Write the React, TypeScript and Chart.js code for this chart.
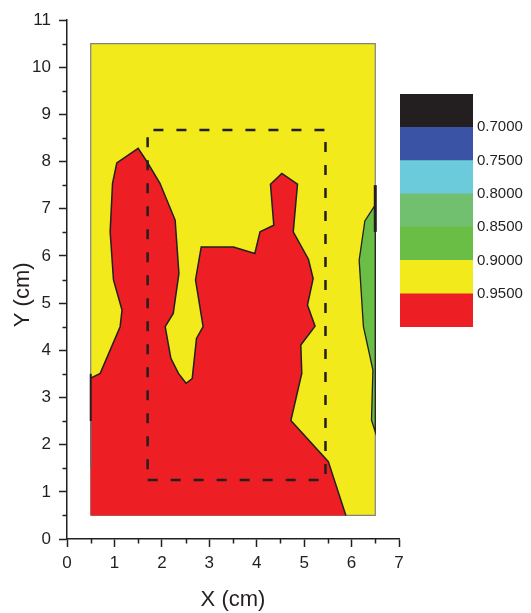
import React, { useEffect, useRef } from "react";
import { Chart, registerables } from "chart.js";

Chart.register(...registerables);

// Domain and axis ticks
const X_MAX = 7;
const Y_MAX = 11;

// Sampled region (yellow background field, 0.90–0.95 band)
const fieldX = [0.5, 6.5, 6.5, 0.5, 0.5];
const fieldY = [0.5, 0.5, 10.5, 10.5, 0.5];

// Region above 0.95 (red); the last two points run along the field boundary
const redX = [
  0.5, 0.7, 1.12, 1.16, 0.98, 0.91, 0.96, 1.05, 1.5, 1.69, 1.96, 2.28, 2.36, 2.24,
  2.07, 2.19, 2.35, 2.51, 2.64, 2.73, 2.87, 2.71, 2.83, 3.51, 3.96, 4.07, 4.36, 4.29,
  4.53, 4.86, 4.77, 5.09, 5.19, 5.07, 5.23, 4.93, 4.95, 4.72, 5.51, 5.88, 0.5, 0.5,
];
const redY = [
  3.41, 3.51, 4.5, 4.85, 5.49, 6.51, 7.54, 7.97, 8.28, 7.99, 7.54, 6.76, 5.63, 4.78,
  4.5, 3.83, 3.51, 3.3, 3.4, 4.25, 4.5, 5.49, 6.19, 6.19, 6.05, 6.51, 6.65, 7.52,
  7.75, 7.52, 6.51, 5.93, 5.52, 4.96, 4.51, 4.11, 3.51, 2.51, 1.64, 0.5, 0.5, 3.41,
];
// Only the interior part of the red outline is drawn as a contour line
const redLineX = redX.slice(0, -2);
const redLineY = redY.slice(0, -2);

// Contour of the 0.85–0.90 band along the right edge (green)
const greenX = [6.5, 6.28, 6.16, 6.25, 6.45, 6.42, 6.5, 6.5];
const greenY = [7.08, 6.74, 5.91, 4.5, 3.58, 2.52, 2.27, 7.08];

// Short contour pieces lying on the field boundary
const leftEdgeX = [0.5, 0.5];
const leftEdgeY = [2.5, 3.5];
const leftEdgeGreyY = [1.5, 2.5];
const rightEdgeX = [6.5, 6.5];
const rightEdgeY = [6.51, 7.5];

// Dashed inspection window
const windowX = [1.7, 5.45, 5.45, 1.7, 1.7];
const windowY = [1.25, 1.25, 8.67, 8.67, 1.25];

// Colour scale (bottom to top) and the level labels between bands
const levelLabels = ["0.9500", "0.9000", "0.8500", "0.8000", "0.7500", "0.7000"];
const bandColors = ["#ed1f24", "#f2ea1a", "#6abd45", "#70c06f", "#6ccbdb", "#3a53a4", "#231f20"];

const INK = "#231f20";
const FONT = "'Liberation Sans', Arial, Helvetica, sans-serif";
const RED = bandColors[0];
const YELLOW = bandColors[1];
const GREEN = bandColors[2];

const pts = (xs: number[], ys: number[]) => xs.map((x, i) => ({ x, y: ys[i] }));

const minorTicks = {
  id: "minorTicks",
  afterDraw(chart: any) {
    const { ctx, scales } = chart;
    const x = scales.x;
    const y = scales.y;
    ctx.save();
    ctx.strokeStyle = INK;
    ctx.lineWidth = 1.5;
    ctx.beginPath();
    for (let v = 0.5; v < X_MAX; v += 1) {
      const px = Math.round(x.getPixelForValue(v)) + 0.5;
      ctx.moveTo(px, x.top);
      ctx.lineTo(px, x.top + 4.5);
    }
    for (let v = 0.5; v < Y_MAX; v += 1) {
      const py = Math.round(y.getPixelForValue(v)) + 0.5;
      ctx.moveTo(y.right, py);
      ctx.lineTo(y.right - 4.5, py);
    }
    ctx.stroke();
    ctx.restore();
  },
};

function ContourChart() {
  const ref = useRef<HTMLCanvasElement>(null);
  useEffect(() => {
    if (!ref.current) return;
    const base = { pointRadius: 0, showLine: true, tension: 0 };
    const chart = new Chart(ref.current, {
      type: "scatter",
      data: {
        datasets: [
          {
            ...base,
            data: pts(windowX, windowY),
            borderColor: INK,
            borderWidth: 2.5,
            borderDash: [10, 13],
            fill: false,
            order: 1,
          },
          {
            ...base,
            data: pts(rightEdgeX, rightEdgeY),
            borderColor: INK,
            borderWidth: 3,
            fill: false,
            order: 2,
          },
          {
            ...base,
            data: pts(leftEdgeX, leftEdgeY),
            borderColor: INK,
            borderWidth: 2,
            fill: false,
            order: 2,
          },
          {
            ...base,
            data: pts(leftEdgeX, leftEdgeGreyY),
            borderColor: "#6d6e71",
            borderWidth: 1.5,
            fill: false,
            order: 2,
          },
          {
            ...base,
            data: pts(greenX, greenY),
            borderColor: INK,
            borderWidth: 1.3,
            backgroundColor: GREEN,
            fill: "shape",
            order: 3,
          },
          {
            ...base,
            data: pts(redLineX, redLineY),
            borderColor: INK,
            borderWidth: 1.5,
            fill: false,
            order: 3.5,
          },
          {
            ...base,
            data: pts(redX, redY),
            borderColor: RED,
            borderWidth: 0,
            backgroundColor: RED,
            fill: "shape",
            order: 4,
          },
          {
            ...base,
            data: pts(fieldX, fieldY),
            borderColor: "#808285",
            borderWidth: 1.2,
            backgroundColor: YELLOW,
            fill: "shape",
            order: 5,
          },
        ],
      } as any,
      options: {
        animation: false,
        responsive: false,
        events: [],
        layout: { padding: { left: 0, top: 20, right: 132, bottom: 0 } },
        plugins: { legend: { display: false }, tooltip: { enabled: false } },
        scales: {
          x: {
            type: "linear",
            min: 0,
            max: X_MAX,
            afterFit: (s: any) => {
              s.height = 74;
            },
            grid: { drawOnChartArea: false, drawTicks: true, tickLength: 8, tickColor: INK, tickWidth: 1.5 },
            border: { display: true, color: INK, width: 1.5 },
            ticks: { stepSize: 1, color: INK, font: { family: FONT, size: 17 }, padding: 6 },
            title: {
              display: true,
              text: "X (cm)",
              color: INK,
              font: { family: FONT, size: 22 },
              padding: { top: 0, bottom: 0 },
            },
          },
          y: {
            type: "linear",
            min: 0,
            max: Y_MAX,
            afterFit: (s: any) => {
              s.width = 67;
            },
            grid: { drawOnChartArea: false, drawTicks: true, tickLength: 8, tickColor: INK, tickWidth: 1.5 },
            border: { display: true, color: INK, width: 1.5 },
            ticks: { stepSize: 1, color: INK, font: { family: FONT, size: 17 }, padding: 8 },
            title: {
              display: true,
              text: "Y (cm)     ",
              color: INK,
              font: { family: FONT, size: 22 },
              padding: { top: 10, bottom: 0 },
            },
          },
        },
      } as any,
      plugins: [minorTicks],
    });
    return () => chart.destroy();
  }, []);
  return <canvas ref={ref} width={531} height={613} style={{ position: "absolute", left: 0, top: 0 }} />;
}

function ColorBar() {
  const ref = useRef<HTMLCanvasElement>(null);
  useEffect(() => {
    if (!ref.current) return;
    const chart = new Chart(ref.current, {
      type: "bar",
      data: {
        labels: [""],
        datasets: bandColors.map((c) => ({
          data: [1],
          backgroundColor: c,
          borderWidth: 0,
          barPercentage: 1,
          categoryPercentage: 1,
        })),
      },
      options: {
        animation: false,
        responsive: false,
        events: [],
        layout: { padding: { left: 5, top: 13, right: 0, bottom: 17 } },
        plugins: { legend: { display: false }, tooltip: { enabled: false } },
        scales: {
          x: { stacked: true, display: false },
          y: {
            stacked: true,
            position: "right",
            min: 0,
            max: bandColors.length,
            afterFit: (s: any) => {
              s.width = 58;
            },
            grid: { display: false, drawTicks: false },
            border: { display: false },
            ticks: {
              stepSize: 1,
              autoSkip: false,
              padding: 4,
              color: INK,
              font: { family: FONT, size: 15 },
              callback: (v: any) => (v >= 1 && v <= levelLabels.length ? levelLabels[v - 1] : ""),
            },
          },
        },
      } as any,
    });
    return () => chart.destroy();
  }, []);
  return (
    <canvas ref={ref} width={136} height={263} style={{ position: "absolute", left: 395, top: 81 }} />
  );
}

export default function App() {
  return (
    <div style={{ position: "absolute", left: 0, top: 0, width: 531, height: 613, background: "#fff" }}>
      <ContourChart />
      <ColorBar />
    </div>
  );
}
